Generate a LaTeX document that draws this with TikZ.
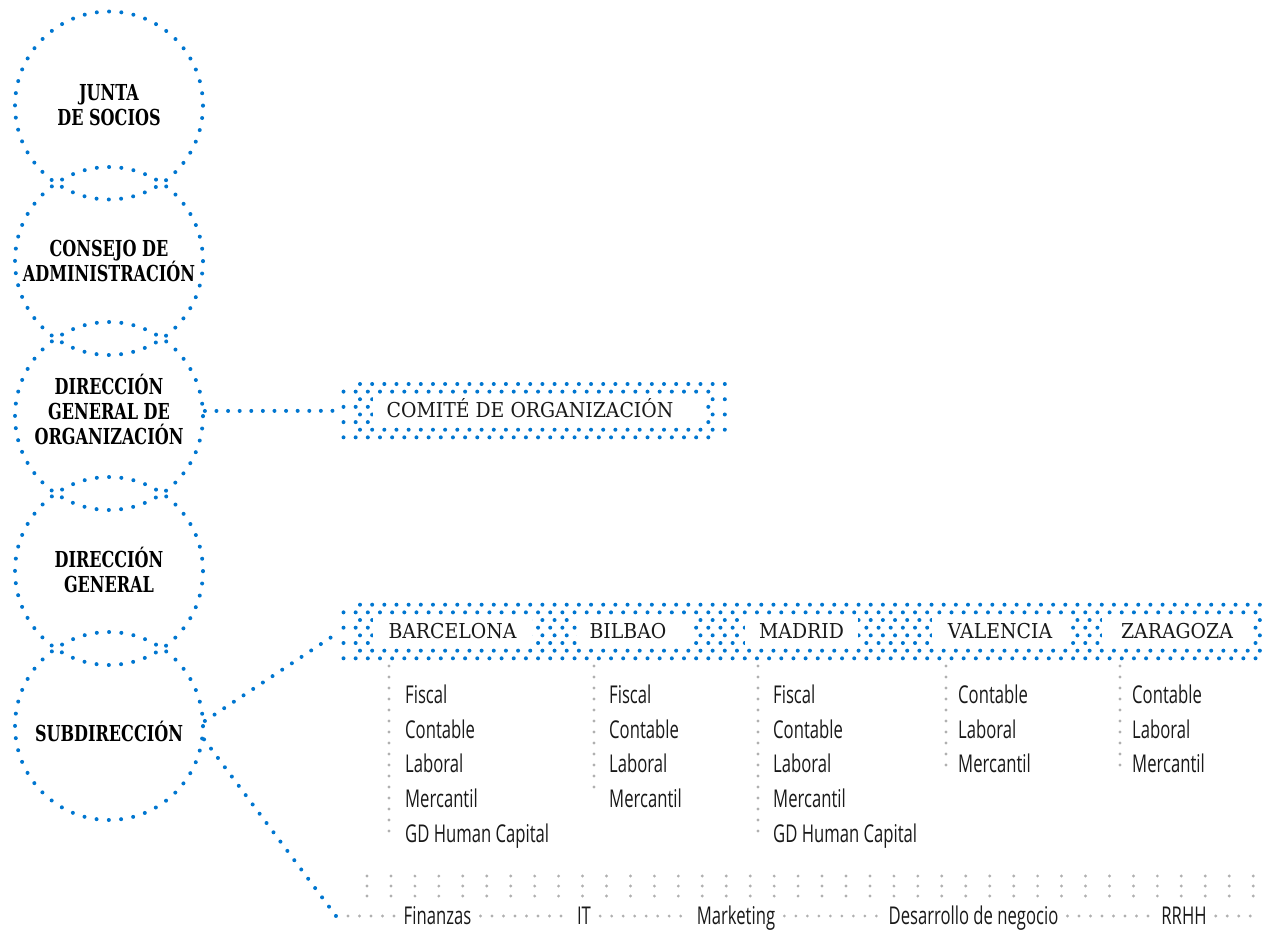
\documentclass[tikz,border=0pt]{standalone}
\usepackage{fontspec}
\setmainfont{DejaVu Serif}
\newfontfamily\circfont[FakeStretch=0.73]{DejaVu Serif}
\newfontfamily\cityfont[FakeStretch=0.92]{DejaVu Serif}
\newfontfamily\listfont[FakeStretch=0.68]{Open Sans}
\usetikzlibrary{calc}
\definecolor{bluec}{RGB}{0,118,208}
\definecolor{grayc}{RGB}{176,176,176}
\definecolor{txt}{RGB}{25,25,25}
\begin{document}
\begin{tikzpicture}[x=1pt,y=-1pt,
  bluedots/.style={draw=bluec, line width=4pt, line cap=round, dash pattern=on 0pt off 11.6pt},
  graydots/.style={draw=grayc, line width=3.2pt, line cap=round, dash pattern=on 0pt off 11.5pt},
  circ/.style={circle, minimum size=188pt, inner sep=0pt, bluedots, dash pattern=on 0pt off 12.3pt},
  ctext/.style={font=\circfont\bfseries\fontsize{22}{25}\selectfont, align=center, text=black, inner sep=0pt},
  citybox/.style={fill=white, minimum height=31pt, inner sep=0pt, text height=14.9pt, text depth=0pt,
    font=\cityfont\fontsize{20.5}{24}\selectfont, text=txt},
  listitem/.style={font=\listfont\fontsize{24.5}{30}\selectfont, text=txt, inner sep=0pt, anchor=base west},
  botlab/.style={font=\listfont\fontsize{24.5}{30}\selectfont, text=txt, inner xsep=9pt, inner ysep=0pt, anchor=base},
  dotfield/.style={inner sep=0pt, draw=none}
]
\useasboundingbox (0,0) rectangle (1263,929);

% ---------- circles ----------
\node[circ] (c1) at (109,105.5) {};
\node[circ] (c2) at (109,261) {};
\node[circ] (c3) at (109,416) {};
\node[circ] (c4) at (109,571) {};
\node[circ] (c5) at (109,726) {};
\node[ctext] (t1) at (109,105) {JUNTA\\DE SOCIOS};
\node[ctext] (t2) at (109,261) {CONSEJO DE\\ADMINISTRACIÓN};
\node[ctext] (t3) at (109,409.5) {DIRECCIÓN\\GENERAL DE\\ORGANIZACIÓN};
\node[ctext] (t4) at (109,570) {DIRECCIÓN\\GENERAL};
\node[ctext] (t5) at (109,731.5) {SUBDIRECCIÓN};

% ---------- comite dot field ----------
\node[dotfield, minimum width=389pt, minimum height=60pt] (cfield) at (534.5,410.8) {};
\foreach \r in {0,...,7}{
  \pgfmathsetmacro{\xs}{ifthenelse(mod(\r,2)==0,360,343.5)}
  \pgfmathsetmacro{\yy}{384+7.62*\r}
  \foreach \c in {0,...,30}{\fill[bluec] ({\xs+12.16*\c},\yy) circle (2pt);}
}
\node[citybox, minimum width=330pt] (com) at (538,410.5) {\hspace*{-16pt}COMITÉ DE ORGANIZACIÓN};
\draw[bluedots] (c3.3) -- (cfield.west);

% ---------- city band ----------
\node[dotfield, minimum width=923pt, minimum height=62pt] (band) at (801.5,631.5) {};
\foreach \r in {0,...,7}{
  \pgfmathsetmacro{\xs}{ifthenelse(mod(\r,2)==0,360,343.5)}
  \pgfmathsetmacro{\yy}{604.7+7.66*\r}
  \foreach \c in {0,...,75}{\fill[bluec] ({\xs+12.16*\c},\yy) circle (2pt);}
}
\node[citybox, minimum width=159pt] (bcn) at (452.5,631.5) {BARCELONA};
\node[citybox, minimum width=115pt] (bio) at (634,631.5) {\hspace*{-12pt}BILBAO};
\node[citybox, minimum width=113pt] (mad) at (801.5,631.5) {MADRID};
\node[citybox, minimum width=136pt] (vlc) at (1000,631.5) {VALENCIA};
\node[citybox, minimum width=150pt] (zar) at (1177,631.5) {ZARAGOZA};
\draw[bluedots] (c5.3) -- (band.west);

% ---------- lists ----------
\coordinate (bcnA) at (389,666); \coordinate (bcnB) at (389,834);
\coordinate (bioA) at (594,666); \coordinate (bioB) at (594,796);
\coordinate (madA) at (758,666); \coordinate (madB) at (758,834);
\coordinate (vlcA) at (946,666); \coordinate (vlcB) at (946,772);
\coordinate (zarA) at (1120,666); \coordinate (zarB) at (1120,772);
\foreach \a/\b in {bcnA/bcnB, bioA/bioB, madA/madB, vlcA/vlcB, zarA/zarB}
  \draw[graydots, dash pattern=on 0pt off 11pt] (\a) -- (\b);

\foreach \t [count=\i] in {Fiscal,Contable,Laboral,Mercantil,GD Human Capital}
  \node[listitem] (bcn\i) at (405,{703.3+34.7*(\i-1)}) {\t};
\foreach \t [count=\i] in {Fiscal,Contable,Laboral,Mercantil}
  \node[listitem] (bio\i) at (609,{703.3+34.7*(\i-1)}) {\t};
\foreach \t [count=\i] in {Fiscal,Contable,Laboral,Mercantil,GD Human Capital}
  \node[listitem] (mad\i) at (773,{703.3+34.7*(\i-1)}) {\t};
\foreach \t [count=\i] in {Contable,Laboral,Mercantil}
  \node[listitem] (vlc\i) at (958,{703.3+34.7*(\i-1)}) {\t};
\foreach \t [count=\i] in {Contable,Laboral,Mercantil}
  \node[listitem] (zar\i) at (1132,{703.3+34.7*(\i-1)}) {\t};

% ---------- bottom band ----------
\foreach \i in {0,...,37}
  \foreach \j in {0,1,2}
    \fill[grayc] ({367+23.95*\i},{876+10*\j}) circle (1.6pt);

\coordinate (bl) at (336,916);
\coordinate (br) at (1257,916);
\draw[bluedots] (c5.-8) -- (bl);
\node[botlab] (fin) at (437.5,924.2) {Finanzas};
\node[botlab] (it) at (584,924.2) {IT};
\node[botlab] (mkt) at (736,924.2) {Marketing};
\node[botlab] (dev) at (973.5,924.2) {Desarrollo de negocio};
\node[botlab] (rrhh) at (1184,924.2) {RRHH};
\draw[graydots] ($(bl)+(12,0)$) -- (fin.west |- bl);
\draw[graydots] (fin.east |- bl) -- (it.west |- bl);
\draw[graydots] (it.east |- bl) -- (mkt.west |- bl);
\draw[graydots] (mkt.east |- bl) -- (dev.west |- bl);
\draw[graydots] (dev.east |- bl) -- (rrhh.west |- bl);
\draw[graydots] (rrhh.east |- bl) -- (br);
\end{tikzpicture}
\end{document}
